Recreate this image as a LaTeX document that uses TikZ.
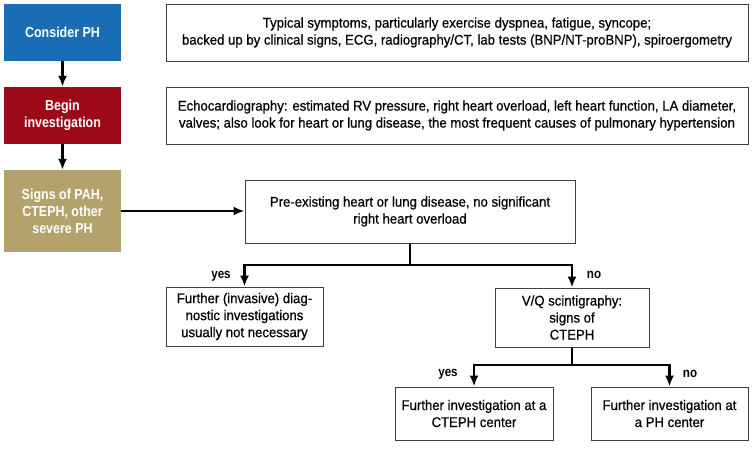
\documentclass[tikz,border=0pt]{standalone}
\usepackage{fontspec}
\setmainfont{Liberation Sans}[FakeStretch=0.86]
\newfontfamily\bodyfont{Liberation Sans}[FakeStretch=0.94,FakeBold=0.6]
\usetikzlibrary{arrows.meta}
\definecolor{phblue}{HTML}{1A6DB5}
\definecolor{phred}{HTML}{9B0A16}
\definecolor{phtan}{HTML}{B3A26C}
\begin{document}
\begin{tikzpicture}[x=1pt,y=-1pt,
 box/.style={draw=black!75, line width=1pt, inner sep=0pt, align=center, font=\bodyfont\fontsize{14}{17}\selectfont},
 cbox/.style={inner sep=0pt, align=center, text=white, minimum width=117pt, font=\bfseries\fontsize{14.5}{17}\selectfont},
 arr/.style={line width=2.5pt, -{Latex[length=11pt,width=9pt]}},
 ln/.style={line width=2.5pt},
 lbl/.style={inner sep=0pt, font=\bfseries\fontsize{13.5}{15}\selectfont}]
\useasboundingbox (0,0) rectangle (752,453);
\node[cbox, fill=phblue, minimum height=57pt] (c1) at (62.5,32.5) {Consider PH};
\node[cbox, fill=phred, minimum height=57pt] (c2) at (62.5,115.5) {Begin\\investigation};
\node[cbox, fill=phtan, minimum height=82pt] (c3) at (62.5,211) {Signs of PAH,\\CTEPH, other\\severe PH};
\node[box, minimum width=582pt, minimum height=57pt] (b1) at (457,32.5) {Typical symptoms, particularly exercise dyspnea, fatigue, syncope;\\backed up by clinical signs, ECG, radiography/CT, lab tests (BNP/NT-proBNP), spiroergometry};
\node[box, minimum width=582pt, minimum height=57pt] (b2) at (457,115.5) {Echocardiography: estimated RV pressure, right heart overload, left heart function, LA diameter,\\valves; also look for heart or lung disease, the most frequent causes of pulmonary hypertension};
\node[box, minimum width=330pt, minimum height=63pt] (b3) at (410,211.5) {Pre-existing heart or lung disease, no significant\\right heart overload};
\node[box, minimum width=157pt, minimum height=59pt] (yes) at (244.5,316.5) {Further (invasive) diag-\\nostic investigations\\usually not necessary};
\node[box, minimum width=154pt, minimum height=59pt] (vq) at (572,317.5) {V/Q scintigraphy:\\signs of\\CTEPH};
\node[box, minimum width=158pt, minimum height=53pt] (ct) at (474,413.5) {Further investigation at a\\CTEPH center};
\node[box, minimum width=157pt, minimum height=53pt] (ph) at (669.5,413.5) {Further investigation at\\a PH center};
\draw[arr] (c1) -- (c2);
\draw[arr] (c2) -- (c3);
\draw[arr] (c3.east) -- (c3.east -| b3.west);
\coordinate (j1) at (410,265);
\draw[ln] (b3.south) -- (j1);
\draw[arr] (j1) -| (yes.north);
\draw[arr] (j1) -| (vq.north);
\coordinate (j2) at (572,365);
\draw[ln] (vq.south) -- (j2);
\draw[arr] (j2) -| (ct.north);
\draw[arr] (j2) -| (ph.north);
\node[lbl] (l1) at (221,276) {yes};
\node[lbl] (l2) at (594,275) {no};
\node[lbl] (l3) at (448,374) {yes};
\node[lbl] (l4) at (690,374) {no};
\end{tikzpicture}
\end{document}
